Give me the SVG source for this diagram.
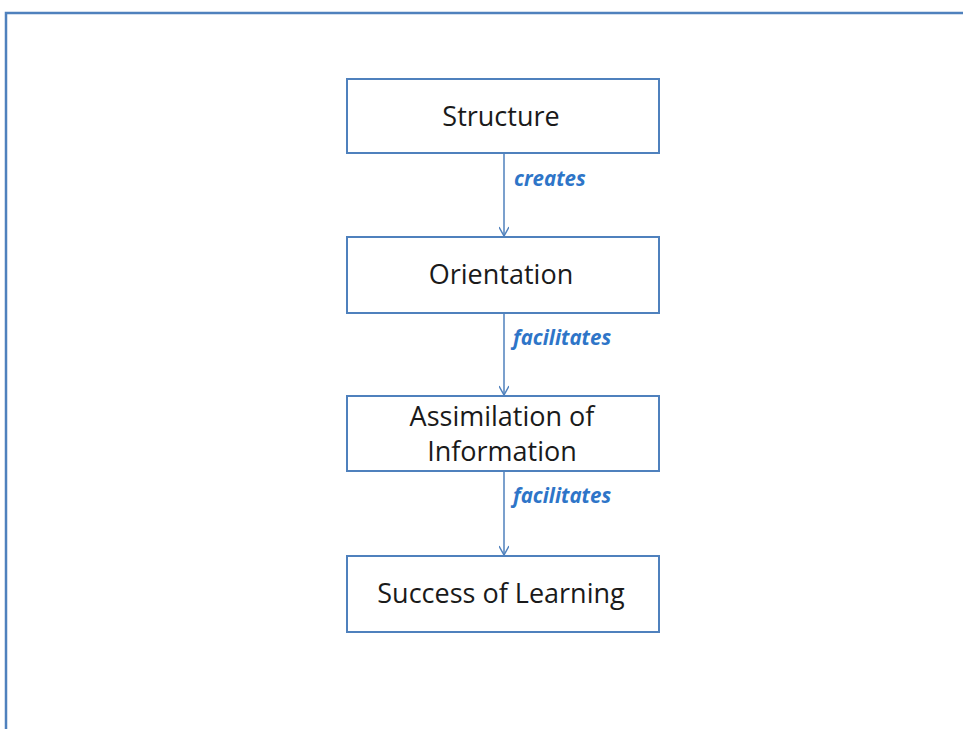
<svg xmlns="http://www.w3.org/2000/svg" width="963" height="729" viewBox="0 0 963 729">
<style>
.frame{fill:none;stroke:#4F81BD;stroke-width:2.5}
.box{fill:#fff;stroke:#4F81BD;stroke-width:2}
.t{font-family:"Open Sans","Liberation Sans",sans-serif;font-size:27px;fill:#1a1a1a;text-anchor:middle}
.lbl{font-family:"Open Sans","Liberation Sans",sans-serif;font-size:20.5px;font-weight:bold;font-style:italic;fill:#2E75C8}
.con{stroke:#4F81BD;stroke-width:1.5;fill:none}
</style>
<defs>
<marker id="arr" markerWidth="12" markerHeight="10" refX="10" refY="5" orient="auto" markerUnits="userSpaceOnUse">
<path d="M1,0 L10,5 L1,10" fill="none" stroke="#4F81BD" stroke-width="1.5"/>
</marker>
</defs>
<rect width="963" height="729" fill="#fff"/>
<path class="frame" d="M6,740 V13 H975"/>
<g id="connectors">
<line class="con" x1="504" y1="154" x2="504" y2="236" marker-end="url(#arr)"/>
<line class="con" x1="504" y1="314" x2="504" y2="395" marker-end="url(#arr)"/>
<line class="con" x1="504" y1="472" x2="504" y2="555" marker-end="url(#arr)"/>
<text class="lbl" x="514" y="186">creates</text>
<text class="lbl" x="513" y="345">facilitates</text>
<text class="lbl" x="513" y="503">facilitates</text>
</g>
<g id="structure">
<rect class="box" x="347" y="79" width="312" height="74"/>
<text class="t" x="501" y="126">Structure</text>
</g>
<g id="orientation">
<rect class="box" x="347" y="237" width="312" height="76"/>
<text class="t" x="501" y="284">Orientation</text>
</g>
<g id="assimilation">
<rect class="box" x="347" y="396" width="312" height="75"/>
<text class="t" x="502" y="426">Assimilation of</text>
<text class="t" x="502" y="461">Information</text>
</g>
<g id="success">
<rect class="box" x="347" y="556" width="312" height="76"/>
<text class="t" x="501" y="603">Success of Learning</text>
</g>
</svg>
